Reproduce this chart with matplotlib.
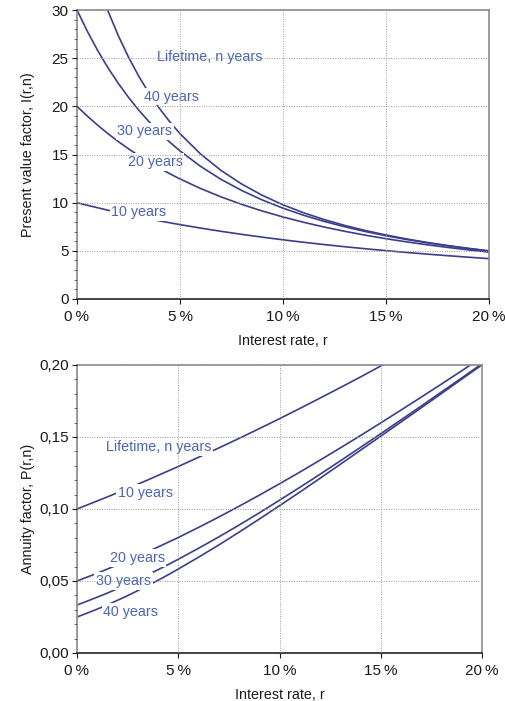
import matplotlib
matplotlib.use("Agg")
import matplotlib.pyplot as plt
from matplotlib.ticker import MultipleLocator

plt.rcParams['font.family'] = ['Liberation Sans', 'DejaVu Sans']

# Interest rate r (%)
rates = [0, 0.5, 1, 1.5, 2, 2.5, 3, 3.5, 4, 4.5, 5, 6, 7, 8, 9, 10,
         11, 12, 13, 14, 15, 16, 17, 18, 19, 20]

# Present value factor I(r, n)
pv_10 = [10.0, 9.730, 9.471, 9.222, 8.983, 8.752, 8.530, 8.317, 8.111, 7.913, 7.722,
         7.360, 7.024, 6.710, 6.418, 6.145,
         5.889, 5.650, 5.426, 5.216, 5.019, 4.833, 4.659, 4.494, 4.339, 4.192]
pv_20 = [20.0, 18.987, 18.046, 17.169, 16.351, 15.589, 14.878, 14.212, 13.590, 13.008, 12.462,
         11.470, 10.594, 9.818, 9.129, 8.514,
         7.963, 7.469, 7.025, 6.623, 6.259, 5.929, 5.628, 5.353, 5.101, 4.870]
pv_30 = [30.0, 27.794, 25.808, 24.016, 22.397, 20.930, 19.600, 18.392, 17.292, 16.289, 15.373,
         13.765, 12.409, 11.258, 10.274, 9.427,
         8.694, 8.055, 7.496, 7.003, 6.566, 6.177, 5.829, 5.517, 5.235, 4.979]
pv_40 = [40.0, 36.172, 32.835, 29.916, 27.356, 25.103, 23.115, 21.355, 19.793, 18.402, 17.159,
         15.046, 13.332, 11.925, 10.757, 9.779,
         8.951, 8.244, 7.634, 7.105, 6.642, 6.234, 5.871, 5.548, 5.258, 4.997]

# Annuity factor P(r, n)
an_10 = [0.1000, 0.1028, 0.1056, 0.1084, 0.1113, 0.1143, 0.1172, 0.1202, 0.1233, 0.1264, 0.1295,
         0.1359, 0.1424, 0.1490, 0.1558, 0.1627,
         0.1698, 0.1770, 0.1843, 0.1917, 0.1993, 0.2069, 0.2147, 0.2225, 0.2305, 0.2385]
an_20 = [0.0500, 0.0527, 0.0554, 0.0583, 0.0612, 0.0641, 0.0672, 0.0704, 0.0736, 0.0769, 0.0802,
         0.0872, 0.0944, 0.1019, 0.1096, 0.1175,
         0.1256, 0.1339, 0.1424, 0.1510, 0.1598, 0.1687, 0.1777, 0.1868, 0.1960, 0.2054]
an_30 = [0.0333, 0.0360, 0.0388, 0.0416, 0.0447, 0.0478, 0.0510, 0.0544, 0.0578, 0.0614, 0.0651,
         0.0727, 0.0806, 0.0888, 0.0973, 0.1061,
         0.1150, 0.1241, 0.1334, 0.1428, 0.1523, 0.1619, 0.1715, 0.1813, 0.1910, 0.2009]
an_40 = [0.0250, 0.0277, 0.0305, 0.0334, 0.0366, 0.0398, 0.0433, 0.0468, 0.0505, 0.0543, 0.0583,
         0.0665, 0.0750, 0.0839, 0.0930, 0.1023,
         0.1117, 0.1213, 0.1310, 0.1408, 0.1506, 0.1604, 0.1703, 0.1802, 0.1902, 0.2001]

x_ticks = [0, 5, 10, 15, 20]
x_tick_labels = ['0\u2009%', '5\u2009%', '10\u2009%', '15\u2009%', '20\u2009%']
top_y_ticks = [0, 5, 10, 15, 20, 25, 30]
top_y_labels = ['0', '5', '10', '15', '20', '25', '30']
bot_y_ticks = [0.0, 0.05, 0.10, 0.15, 0.20]
bot_y_labels = ['0,00', '0,05', '0,10', '0,15', '0,20']

series_labels = ['10 years', '20 years', '30 years', '40 years']
legend_title = 'Lifetime, n years'

LINE = '#3b3e8d'
TEXT = '#4a66b8'
FS = 10.3
TFS = 11

fig = plt.figure(figsize=(5.06, 7.01), dpi=100)
ax1 = fig.add_axes([77 / 506, 1 - 299 / 701, 412 / 506, 289 / 701])
ax2 = fig.add_axes([77 / 506, 1 - 653 / 701, 405 / 506, 288 / 701])


def style(ax, yticks, ylabels, minor, ylabel, width_px):
    ax.set_axisbelow(False)
    ax.set_xlim(0, 20)
    ax.set_xticks(x_ticks)
    ax.set_xticklabels(x_tick_labels)
    ax.set_yticks(yticks)
    ax.set_yticklabels(ylabels)
    ax.set_ylim(yticks[0], yticks[-1])
    ax.yaxis.set_minor_locator(MultipleLocator(minor))
    ax.grid(True, which='major', linestyle=(0, (1, 1.5)), color='#9a9a9a', linewidth=0.7)
    ax.tick_params(axis='both', which='major', direction='out', length=3.5, width=0.8,
                   pad=2.5, labelsize=TFS, colors='#1a1a1a')
    ax.tick_params(axis='x', which='major', pad=4.5)
    ax.tick_params(axis='y', which='minor', direction='out', length=2, width=0.6,
                   colors='#555555')
    for s in ['top', 'right', 'left']:
        ax.spines[s].set_color('#808080')
        ax.spines[s].set_linewidth(1.1)
    ax.spines['bottom'].set_color('#111111')
    ax.spines['bottom'].set_linewidth(1.1)
    ax.set_xlabel('Interest rate, r', fontsize=FS, color='#1a1a1a', labelpad=7)
    ax.set_ylabel(ylabel, fontsize=FS, color='#1a1a1a')
    ax.yaxis.set_label_coords((35 - 77) / width_px, 0.5)


style(ax1, top_y_ticks, top_y_labels, 1, 'Present value factor, I(r,n)', 412)
style(ax2, bot_y_ticks, bot_y_labels, 0.01, 'Annuity factor, P(r,n)', 405)

box = dict(facecolor='white', edgecolor='none', pad=1.2)

for ys in [pv_10, pv_20, pv_30, pv_40]:
    ax1.plot(rates, ys, color=LINE, linewidth=1.2, zorder=1)
for ys in [an_10, an_20, an_30, an_40]:
    ax2.plot(rates, ys, color=LINE, linewidth=1.2, zorder=1)

# top labels
top_label_pos = [(3.0, 9.0), (3.8, 14.2), (3.3, 17.4), (4.6, 21.0)]
for lab, (x, y) in zip(series_labels, top_label_pos):
    ax1.text(x, y, lab, color=TEXT, fontsize=FS, ha='center', va='center',
             bbox=box, zorder=1.5)
ax1.text(3.9, 25.1, legend_title, color=TEXT, fontsize=FS, ha='left', va='center', zorder=3)

# bottom labels
bot_label_pos = [(3.37, 0.111), (2.97, 0.066), (2.3, 0.050), (2.66, 0.0285)]
for lab, (x, y) in zip(series_labels, bot_label_pos):
    ax2.text(x, y, lab, color=TEXT, fontsize=FS, ha='center', va='center',
             bbox=box, zorder=1.5)
ax2.text(1.43, 0.143, legend_title, color=TEXT, fontsize=FS, ha='left', va='center',
         bbox=box, zorder=1.5)

fig.savefig('out.png', dpi=100)
